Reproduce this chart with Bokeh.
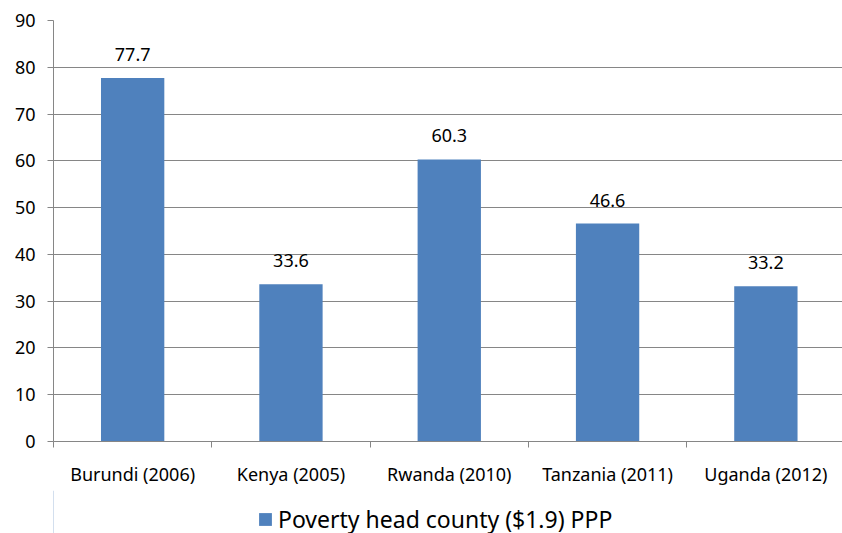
from bokeh.plotting import figure
from bokeh.layouts import column
from bokeh.models import Range1d, FixedTicker, ColumnDataSource, LabelSet, Legend, LegendItem
from bokeh.core.properties import value
from bokeh.embed import file_html
from bokeh.resources import INLINE

# Poverty headcount ratio at $1.90 a day (PPP), by country and survey year
countries = ["Burundi (2006)", "Kenya (2005)", "Rwanda (2010)", "Tanzania (2011)", "Uganda (2012)"]
poverty = [77.7, 33.6, 60.3, 46.6, 33.2]
y_ticks = [0, 10, 20, 30, 40, 50, 60, 70, 80, 90]
series_name = "Poverty head county ($1.9) PPP"

FONT = "Noto Sans"
BAR = "#4F81BD"
GRID = "#868686"

xs = [i + 0.5 for i in range(len(countries))]
src = ColumnDataSource(dict(x=xs, y=poverty, lab=[f"{v:.1f}" for v in poverty]))

p = figure(width=842, height=490, output_backend="svg", toolbar_location=None,
           x_range=Range1d(0, 4.984), y_range=Range1d(0, 90),
           min_border_left=53, min_border_right=0, min_border_top=20, min_border_bottom=49)
p.outline_line_color = None
p.background_fill_color = "white"

bars = p.vbar(x="x", top="y", width=0.4, bottom=0, source=src, fill_color=BAR, line_color=None)

p.add_layout(LabelSet(x="x", y="y", text="lab", source=src, text_align="center",
                      text_baseline="bottom", y_offset=17, text_font=value(FONT),
                      text_font_size=value("18px"), text_color="black"))

# y axis
p.yaxis.ticker = FixedTicker(ticks=y_ticks)
p.yaxis.axis_line_color = GRID
p.yaxis.major_tick_line_color = GRID
p.yaxis.major_tick_out = 6
p.yaxis.major_tick_in = 0
p.yaxis.minor_tick_line_color = None
p.yaxis.major_label_text_font = FONT
p.yaxis.major_label_text_font_size = "18px"
p.yaxis.major_label_text_color = "black"
p.yaxis.major_label_standoff = 12

# x axis: names at category centres, tick marks on category boundaries
p.xaxis.ticker = FixedTicker(ticks=xs, minor_ticks=[0, 1, 2, 3, 4, 5])
p.xaxis.major_label_overrides = {x: c for x, c in zip(xs, countries)}
p.xaxis.axis_line_color = GRID
p.xaxis.major_tick_line_color = None
p.xaxis.minor_tick_line_color = GRID
p.xaxis.minor_tick_out = 6
p.xaxis.minor_tick_in = 0
p.xaxis.major_label_text_font = FONT
p.xaxis.major_label_text_font_size = "18px"
p.xaxis.major_label_text_color = "black"
p.xaxis.major_label_standoff = 14

p.xgrid.grid_line_color = None
p.ygrid.ticker = FixedTicker(ticks=y_ticks)
p.ygrid.grid_line_color = GRID
p.ygrid.grid_line_width = 1

# legend strip under the chart (its frame lines up with the chart's frame);
# the key renderer sits outside the visible range
leg = figure(width=842, height=43, output_backend="svg", toolbar_location=None,
             x_range=Range1d(0, 1), y_range=Range1d(0, 1),
             x_axis_location=None, y_axis_location=None,
             min_border=0, min_border_left=0, min_border_right=0,
             min_border_top=0, min_border_bottom=0)
leg.grid.visible = False
leg.outline_line_color = None
leg.background_fill_alpha = 0
leg.border_fill_color = "white"
key = leg.vbar(x=[-10], top=[1], width=0.4, fill_color=BAR, line_color=None)
legend = Legend(items=[LegendItem(label=series_name, renderers=[key])],
                location=(204, -2), orientation="horizontal",
                border_line_color=None, background_fill_alpha=0,
                padding=0, margin=0, glyph_width=16, glyph_height=16,
                label_text_font=FONT, label_text_font_size="23px", label_text_color="black",
                label_standoff=5)
leg.add_layout(legend, "center")

layout = column(p, leg, spacing=0)
open("out.html", "w").write(file_html(layout, INLINE))
